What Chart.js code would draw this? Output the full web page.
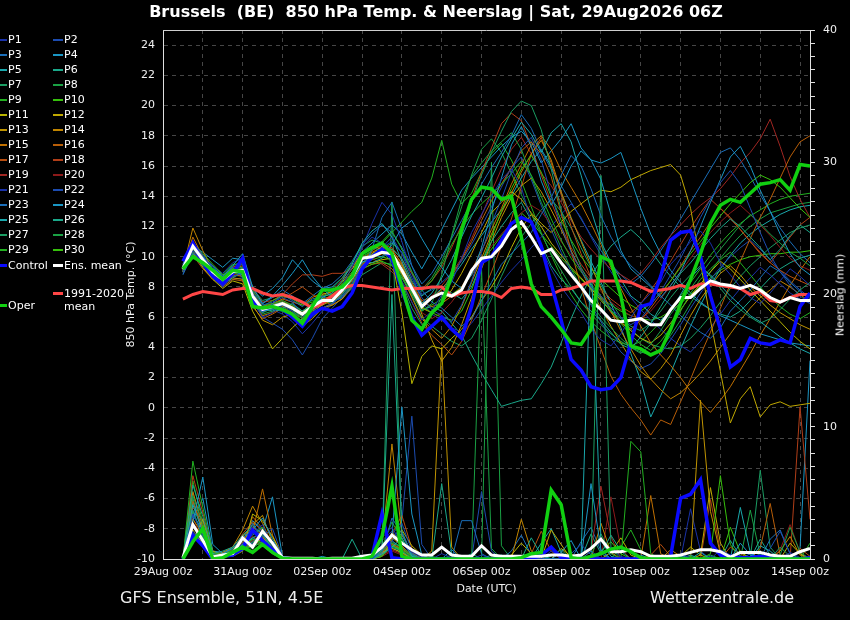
<!DOCTYPE html>
<html>
<head>
<meta charset="utf-8">
<script src="https://cdn.jsdelivr.net/npm/chart.js@4.4.0/dist/chart.umd.min.js"></script>
<style>
  body { margin: 0; background: #000; font-family: "DejaVu Sans", sans-serif; color: #fff; }
  #wrap { position: relative; width: 850px; height: 620px; overflow: hidden; }
  #title { position: absolute; left: 0; top: 2px; width: 872px; text-align: center;
           font-weight: bold; font-size: 16px; line-height: 20px; }
  .foot { position: absolute; top: 588px; font-size: 16px; line-height: 20px; color: #eee; }
  .lg { position: absolute; font-size: 11px; line-height: 13px; white-space: nowrap; color: #fff; }
  .sw { position: absolute; height: 2px; }
  #rtitle { position: absolute; left: 840px; top: 295px; font-size: 11px; white-space: nowrap;
            transform: translate(-50%, -50%) rotate(-90deg); color: #fff; }
</style>
</head>
<body>
<div id="wrap">
  <canvas id="chart" width="850" height="620"></canvas>
  <div id="title">Brussels&nbsp; (BE)&nbsp; 850 hPa Temp. &amp; Neerslag | Sat, 29Aug2026 06Z</div>
  <div id="legend"></div>
  <div id="rtitle">Neerslag (mm)</div>
  <div class="foot" style="left:120px">GFS Ensemble, 51N, 4.5E</div>
  <div class="foot" style="left:650px">Wetterzentrale.de</div>
</div>
<script>
// forecast steps: 6-hourly from 29Aug 12z, x axis in hours since 29Aug 00z
const firstHour = 12;
const stepHours = 6;
const dayLabels = ['29Aug','30Aug','31Aug','01Sep','02Sep','03Sep','04Sep','05Sep','06Sep',
                   '07Sep','08Sep','09Sep','10Sep','11Sep','12Sep','13Sep','14Sep'];

// 850 hPa temperature (°C)
const ensMean = [9.2,10.7,9.8,9.0,8.5,9.0,9.1,7.4,6.5,6.7,6.9,6.6,6.2,6.7,7.1,7.1,
  7.8,8.7,9.9,10.0,10.3,10.2,9.1,7.9,6.7,7.3,7.6,7.4,7.8,9.1,9.9,10.0,
  10.7,11.8,12.3,11.3,10.2,10.5,9.6,8.8,8.0,7.1,6.5,5.8,5.7,5.8,5.9,5.5,
  5.5,6.5,7.3,7.3,7.9,8.4,8.2,8.1,7.9,8.1,7.8,7.3,7.0,7.3,7.1,7.1];
const climMean = [7.2,7.5,7.7,7.6,7.5,7.8,7.9,7.9,7.6,7.4,7.5,7.3,7.0,6.6,6.9,7.4,
  7.9,8.1,8.1,8.0,7.9,7.8,7.9,7.9,7.9,8.0,8.0,7.4,7.6,7.7,7.7,7.6,
  7.3,7.9,8.0,7.9,7.5,7.5,7.8,7.9,8.1,8.4,8.4,8.4,8.4,8.3,8.0,7.7,
  7.8,7.9,8.1,7.9,8.2,8.2,8.1,8.0,7.9,7.5,7.7,7.1,7.0,7.3,7.5,7.5];
const controlTemp = [9.7,10.9,9.6,8.7,8.2,8.9,9.9,7.1,6.5,6.7,6.5,6.0,5.4,6.2,6.6,6.4,
  6.7,7.6,9.2,10.0,10.5,9.9,7.8,6.0,4.8,5.4,6.0,5.2,4.6,6.7,9.6,10.0,
  11.1,12.2,12.6,12.3,10.7,8.2,5.8,3.2,2.5,1.4,1.2,1.3,2.0,4.3,6.7,6.9,
  8.7,11.1,11.6,11.7,10.0,7.4,5.2,2.7,3.2,4.6,4.3,4.2,4.5,4.3,6.7,7.6];
const operTemp = [9.2,10.0,9.6,9.1,8.5,9.1,9.0,6.7,6.6,6.7,6.5,6.2,5.6,6.7,7.8,7.8,
  8.0,8.7,10.2,10.6,10.9,10.2,8.0,5.8,5.2,6.3,6.9,8.7,11.8,13.8,14.6,14.5,
  13.8,14.0,11.3,8.2,6.7,6.0,5.2,4.3,4.2,5.2,10.0,9.7,7.4,4.1,3.9,3.5,
  3.8,5.2,6.9,8.5,10.2,12.2,13.4,13.8,13.6,14.2,14.8,14.9,15.1,14.4,16.1,16.0];

const temp_P1 = [9.0,10.4,9.5,8.6,8.0,8.8,9.6,7.1,6.0,6.3,6.8,6.4,5.6,6.3,7.0,7.3,
  8.1,9.3,10.6,11.3,10.9,9.8,8.4,7.0,5.8,6.4,7.5,8.3,9.9,11.6,12.8,14.0,
  15.1,15.8,14.6,12.3,10.5,9.2,8.0,7.1,6.3,5.2,4.5,4.1,4.9,6.0,6.9,7.6,
  8.3,9.5,10.2,11.0,11.7,10.9,9.6,8.8,8.0,7.3,6.9,7.6,8.4,9.2,8.7,8.1];
const temp_P2 = [9.4,11.0,10.1,9.2,8.3,8.7,8.9,7.6,6.8,7.0,7.3,7.0,6.1,6.0,6.6,6.9,
  7.4,8.2,9.4,9.8,10.6,11.3,10.2,8.6,7.3,6.5,6.1,5.7,6.8,8.4,10.3,12.2,
  13.8,15.6,17.2,17.9,16.4,14.1,12.0,10.3,9.1,8.0,7.4,6.6,6.0,5.5,5.9,6.8,
  7.7,8.8,9.9,11.2,12.6,13.8,14.9,15.7,14.8,13.2,11.6,10.1,9.0,8.1,7.4,6.9];
const temp_P3 = [8.8,10.2,9.9,9.4,8.7,9.3,8.6,6.9,6.3,6.9,7.5,7.1,6.7,7.2,7.4,7.0,
  7.3,8.0,9.1,10.5,12.6,13.6,11.8,9.4,7.8,7.0,6.6,6.0,5.4,5.9,7.1,8.3,
  9.5,10.2,10.9,11.6,12.8,13.9,15.4,16.7,16.0,14.5,12.7,11.3,10.2,9.4,8.8,8.1,
  7.4,6.8,6.1,5.5,5.0,4.6,5.3,6.4,7.1,7.8,8.6,9.4,9.0,8.3,7.7,7.2];
const temp_P4 = [9.5,10.8,10.0,9.3,8.7,9.4,10.2,8.0,6.9,7.4,8.1,8.9,9.8,8.7,7.9,7.3,
  7.7,8.6,9.6,10.1,10.0,10.8,11.9,12.4,11.2,10.1,9.3,8.4,7.9,8.8,10.6,13.0,
  15.2,17.4,18.6,17.3,15.0,13.4,14.6,16.0,17.0,16.4,15.1,12.8,10.4,9.2,8.6,8.0,
  7.3,8.1,9.0,10.4,12.0,13.6,15.1,16.6,17.3,16.0,14.4,13.0,11.5,10.2,9.3,8.8];
const temp_P5 = [9.1,10.6,9.7,8.9,8.4,9.1,8.8,7.2,6.4,6.5,6.4,6.0,5.8,6.6,7.3,7.6,
  8.4,9.5,10.9,11.7,12.2,11.3,9.7,8.1,6.9,7.6,8.6,9.8,11.3,12.7,13.9,15.2,
  16.6,17.8,18.9,18.1,16.9,18.2,18.8,17.6,15.4,13.1,11.0,9.6,8.5,7.4,6.9,6.2,
  5.8,6.4,7.5,8.6,9.3,8.8,8.1,7.4,6.8,6.1,5.7,5.2,4.7,4.3,3.9,3.6];
const temp_P6 = [9.3,10.9,9.6,8.6,8.1,8.6,9.0,7.5,6.6,6.4,6.6,6.9,6.4,6.9,7.2,6.9,
  7.5,8.5,9.7,9.6,9.9,10.5,9.9,8.4,7.4,7.9,8.0,7.6,7.2,8.0,9.6,11.0,
  12.0,12.9,13.6,12.4,10.8,9.4,8.5,7.9,7.0,6.4,5.8,5.0,4.2,3.9,4.7,5.6,
  6.7,7.8,8.9,9.6,10.4,11.2,11.9,12.5,12.0,11.3,10.6,9.8,10.5,11.4,12.1,11.6];
const temp_P7 = [9.2,10.5,9.9,9.1,8.6,9.2,9.3,7.3,6.4,6.8,7.0,6.5,6.0,6.5,7.0,7.2,
  7.9,8.8,10.1,10.6,10.4,9.6,8.3,6.6,5.5,6.1,7.3,9.1,11.4,13.6,15.4,16.9,
  18.3,19.6,20.3,20.0,18.4,15.8,13.1,11.0,9.3,8.1,7.2,6.4,5.9,5.4,5.1,5.6,
  6.4,7.3,8.1,8.8,9.4,8.7,7.9,7.1,6.5,6.0,5.6,5.9,6.5,7.2,7.8,8.3];
const temp_P8 = [9.0,10.3,9.4,8.7,8.3,8.9,8.9,7.1,6.3,6.6,6.9,6.4,5.9,6.4,7.3,7.9,
  8.6,9.6,10.7,11.1,10.9,9.9,8.7,7.5,6.4,6.9,8.8,11.4,13.8,15.3,16.2,17.0,
  17.6,18.2,17.1,15.3,13.6,12.1,10.6,9.2,8.0,6.9,6.0,5.3,4.6,4.0,3.6,4.2,
  5.1,6.2,7.0,7.9,8.8,9.7,10.5,11.3,12.1,12.8,12.2,11.5,10.9,10.3,9.9,9.4];
const temp_P9 = [9.3,10.6,9.8,9.2,8.8,9.5,9.5,7.8,6.8,6.9,7.1,6.8,6.4,6.8,7.4,7.5,
  8.2,9.0,9.9,10.4,11.0,11.7,10.5,9.0,7.7,8.4,9.5,10.8,11.9,12.8,13.5,14.1,
  14.8,15.5,16.3,15.4,14.0,12.5,11.1,9.9,9.0,8.2,7.4,6.5,5.6,4.8,4.2,3.8,
  4.4,5.3,6.4,7.6,8.5,9.2,9.8,10.3,9.6,8.8,8.0,7.3,6.7,6.2,5.9,6.3];
const temp_P10 = [9.4,10.9,10.2,9.5,8.8,9.1,9.0,7.3,6.7,7.1,7.4,7.2,6.8,7.0,7.2,7.0,
  7.4,8.1,9.2,9.5,9.7,9.4,8.6,7.6,6.7,6.3,6.0,5.8,6.4,7.8,9.6,11.3,
  13.0,14.5,15.8,16.7,15.6,14.0,12.4,11.1,10.0,9.2,8.5,7.9,7.3,6.8,6.4,6.9,
  7.6,8.4,9.3,10.2,11.0,11.9,12.7,13.5,14.2,14.9,15.4,15.1,14.6,13.9,13.2,12.6];
const temp_P11 = [9.1,10.4,9.3,8.5,7.9,8.4,8.2,6.4,5.2,3.9,4.6,5.3,5.9,6.4,6.8,7.1,
  7.7,8.5,9.4,9.6,9.8,9.9,6.3,1.6,3.4,4.1,3.9,4.6,5.2,6.0,7.1,8.0,
  9.1,10.6,11.9,12.8,12.0,10.9,10.1,9.3,8.6,7.9,7.1,6.4,5.7,5.1,4.6,4.3,
  4.8,5.6,6.5,7.4,8.2,9.0,9.7,9.2,8.5,7.8,7.1,6.4,5.7,5.0,4.4,3.9];
const temp_P12 = [9.3,10.8,9.7,8.8,8.4,9.0,9.2,7.6,6.6,6.8,7.0,6.7,6.3,6.9,7.5,7.7,
  8.3,9.2,10.3,10.7,10.5,9.8,8.9,7.8,6.6,6.3,6.9,7.8,8.9,10.2,11.6,12.9,
  13.6,14.3,13.8,12.9,12.2,11.6,12.3,13.0,13.5,14.0,14.4,14.3,14.6,15.1,15.4,15.7,
  15.9,16.1,15.4,13.2,9.6,5.8,2.4,-1.0,0.6,1.4,-0.6,0.2,0.4,0.1,0.2,0.3];
const temp_P13 = [9.0,10.2,9.5,8.9,8.2,8.6,8.5,6.8,5.8,5.5,6.0,6.2,5.4,5.9,6.6,6.8,
  7.2,8.0,9.3,10.2,10.7,10.3,9.4,8.0,6.2,4.5,3.1,4.0,5.5,7.3,9.2,11.0,
  12.6,13.9,14.7,15.2,14.3,13.1,11.8,10.4,9.1,7.8,6.6,5.4,4.3,3.2,2.4,1.9,
  2.6,3.5,4.8,6.1,7.2,8.1,8.9,9.4,8.8,8.0,7.4,6.8,6.3,5.9,5.5,5.2];
const temp_P14 = [9.2,11.9,10.4,9.1,8.3,8.8,8.7,7.0,6.1,6.3,6.7,6.5,6.1,6.7,7.2,7.4,
  8.0,8.9,9.9,10.0,10.2,10.0,8.8,7.3,5.9,5.2,4.6,5.4,6.7,8.3,9.9,11.5,
  12.9,14.2,15.6,16.8,17.7,16.4,14.3,12.6,11.0,9.4,7.9,6.4,5.1,3.9,2.8,1.9,
  1.2,0.6,1.0,1.6,2.3,3.1,4.0,4.9,5.8,6.6,7.3,7.8,8.4,8.0,7.5,7.0];
const temp_P15 = [9.4,11.3,10.0,9.0,8.5,9.2,9.4,7.6,6.7,6.9,7.2,7.0,6.8,7.3,7.6,7.5,
  7.9,8.7,9.8,10.3,10.6,10.5,9.5,8.2,7.0,6.7,6.9,7.4,8.0,9.1,10.4,11.8,
  13.2,14.8,16.1,17.4,18.0,17.1,15.7,14.6,13.5,12.2,10.8,9.3,7.9,6.6,5.4,4.3,
  3.5,2.8,2.0,1.1,0.4,-0.3,0.5,1.4,2.5,3.6,4.8,5.9,7.0,8.1,9.1,10.0];
const temp_P16 = [9.1,10.7,9.6,8.7,8.0,8.5,8.4,6.7,5.9,6.2,6.6,6.3,5.9,6.3,6.6,6.9,
  7.6,8.4,9.5,9.9,10.2,10.4,9.6,8.3,7.1,7.3,7.8,8.7,9.8,11.0,12.4,13.7,
  14.8,15.9,17.0,17.6,16.8,15.3,12.9,10.4,8.0,5.8,3.9,2.1,0.9,0.0,-0.8,-1.8,
  -0.8,-1.1,0.4,1.9,3.5,5.0,6.6,8.2,9.7,11.2,12.6,13.8,15.2,16.6,17.6,18.0];
const temp_P17 = [9.0,10.1,9.2,8.5,8.1,8.7,8.9,7.2,6.5,6.8,7.2,7.6,8.0,7.5,7.1,6.8,
  7.2,8.1,9.2,9.5,9.6,9.2,8.3,7.0,5.6,4.8,4.2,3.5,4.4,5.8,7.4,9.0,
  10.7,12.5,14.6,16.8,17.9,16.2,14.1,12.0,10.2,8.6,7.3,6.3,5.6,5.2,5.8,6.6,
  7.5,8.4,9.4,10.4,11.3,12.3,13.2,12.6,11.8,11.0,10.2,9.6,9.1,8.7,8.4,8.1];
const temp_P18 = [9.3,10.9,10.0,9.1,8.6,9.3,9.6,7.9,7.0,7.1,7.5,8.2,8.8,8.8,8.7,8.9,
  8.9,9.2,9.8,10.4,10.8,10.6,9.8,8.9,7.9,8.4,9.3,10.6,12.1,13.8,15.6,17.2,
  18.8,19.5,19.0,17.3,15.4,13.6,12.0,10.6,9.5,8.6,7.9,7.2,6.7,6.3,6.9,7.8,
  8.7,9.7,10.8,11.9,12.9,13.8,13.2,12.5,11.8,11.0,10.3,9.6,10.4,11.3,12.1,12.6];
const temp_P19 = [9.0,10.6,9.8,9.0,8.6,9.2,9.0,7.3,6.6,6.9,7.1,6.8,6.4,6.9,7.4,7.7,
  8.5,9.4,10.1,9.9,9.5,9.0,8.3,7.6,6.8,7.4,8.1,8.9,9.9,11.2,12.7,14.3,
  15.8,17.1,17.9,16.8,15.5,14.7,13.6,12.4,11.3,10.5,9.8,9.2,8.8,8.4,8.9,9.7,
  10.6,11.4,12.1,12.8,13.4,13.9,14.5,15.3,16.2,16.9,17.8,19.1,17.3,15.3,13.8,12.6];
const temp_P20 = [9.2,10.4,9.5,8.8,8.4,8.9,8.7,7.1,6.4,6.7,7.0,6.5,6.0,6.5,7.1,7.5,
  8.2,8.9,9.6,10.0,10.3,9.9,9.0,7.8,6.3,5.9,6.3,7.0,7.9,8.8,9.8,10.7,
  11.5,12.2,12.9,13.4,13.0,12.1,11.0,10.1,9.2,8.4,7.7,7.0,6.5,6.1,5.9,6.4,
  7.2,8.1,9.0,9.9,10.8,11.6,12.3,12.9,13.4,12.8,12.1,11.4,10.6,9.9,9.4,9.1];
const temp_P21 = [9.5,10.9,10.1,9.4,8.9,9.6,9.9,7.8,6.9,6.5,6.2,5.7,4.9,5.6,6.4,6.8,
  7.6,8.9,10.6,12.2,13.6,12.8,11.0,8.9,7.0,6.2,5.8,5.3,5.0,5.6,6.5,7.4,
  8.3,9.1,9.8,10.6,11.3,12.0,12.8,13.5,12.6,11.3,10.1,9.0,8.1,7.3,6.5,5.8,
  5.2,4.6,4.1,3.7,4.4,5.3,6.2,7.1,7.9,8.6,9.3,8.8,8.2,7.6,7.2,6.9];
const temp_P22 = [8.9,10.2,9.3,8.6,8.0,8.5,8.6,7.0,6.0,5.6,5.2,4.5,3.5,4.6,5.9,6.6,
  7.3,8.2,9.3,9.9,10.6,11.0,10.3,8.9,7.5,7.8,8.3,8.9,9.7,10.8,12.0,13.3,
  14.6,15.9,16.6,15.1,13.4,11.8,10.3,9.0,7.9,6.8,5.7,4.6,3.7,3.1,2.6,2.9,
  3.6,4.5,5.5,6.6,7.6,8.5,9.3,10.0,10.6,11.1,10.5,9.8,9.1,8.4,7.8,7.3];
const temp_P23 = [9.3,10.6,9.9,9.2,8.7,9.3,9.5,7.7,6.9,7.3,7.8,7.4,6.9,7.4,7.9,8.2,
  8.8,9.7,10.8,11.5,12.1,11.6,10.6,9.4,8.2,8.9,10.0,11.2,12.4,13.6,14.8,15.9,
  16.9,18.0,19.4,18.5,17.0,15.8,14.7,13.6,12.5,11.4,10.4,9.5,8.8,8.2,8.7,9.5,
  10.4,11.4,12.5,13.6,14.7,15.8,16.9,17.2,16.4,15.3,14.1,13.0,11.9,11.0,10.2,9.6];
const temp_P24 = [9.2,10.7,10.3,9.8,9.3,9.9,9.8,8.0,7.4,7.9,8.6,9.8,9.1,8.4,7.9,8.0,
  8.6,9.4,10.3,10.9,11.5,12.1,11.5,10.3,9.2,10.4,11.8,13.1,14.4,15.2,15.9,16.6,
  17.3,17.9,18.3,17.6,16.2,17.0,17.8,18.8,17.2,16.4,16.2,16.5,16.9,15.1,13.2,11.5,
  10.2,9.1,8.3,7.6,7.0,6.5,6.1,5.8,5.5,5.2,4.9,4.7,4.5,4.3,4.2,4.1];
const temp_P25 = [9.0,10.3,9.6,9.0,8.5,9.1,9.2,7.4,6.5,6.6,6.8,6.4,5.9,6.3,6.9,7.2,
  7.9,8.8,9.8,10.1,10.3,10.0,9.2,8.1,6.9,7.3,7.9,8.6,9.5,10.5,11.4,12.3,
  13.1,14.0,15.2,16.3,17.1,16.0,14.2,12.5,11.1,9.7,8.3,6.9,5.3,3.6,1.8,-0.6,
  0.8,2.3,3.9,5.4,6.8,8.1,9.2,10.1,10.9,11.5,12.0,12.4,12.8,13.1,13.3,13.4];
const temp_P26 = [9.1,10.5,9.8,9.1,8.6,9.0,9.1,7.4,6.6,6.8,7.0,6.8,6.4,6.8,7.2,7.3,
  7.9,8.7,9.8,10.2,10.5,10.1,9.0,7.6,6.5,6.7,6.4,5.6,4.8,3.5,2.3,1.2,
  0.1,0.3,0.5,0.6,1.6,2.7,4.3,5.9,7.4,8.7,9.8,10.7,11.3,11.8,11.2,10.4,
  9.5,8.7,8.0,7.4,6.9,6.5,6.2,6.0,6.4,7.1,7.9,8.6,9.2,9.6,9.9,10.1];
const temp_P27 = [9.4,10.8,9.9,9.1,8.7,9.4,9.7,7.9,7.1,7.3,7.6,7.3,6.9,7.1,7.3,7.1,
  7.3,7.9,8.8,9.2,9.6,9.5,8.6,7.4,6.0,5.4,4.9,4.4,4.1,4.6,5.8,7.2,
  8.7,10.1,11.3,12.2,13.1,13.8,13.0,11.9,10.6,9.3,8.1,7.0,6.0,5.2,4.6,4.2,
  4.0,3.9,4.1,4.6,5.3,6.1,7.0,7.9,8.7,9.4,10.0,10.6,11.1,11.6,11.9,12.1];
const temp_P28 = [9.2,10.6,9.5,8.8,8.2,8.7,8.8,7.0,6.2,6.4,6.7,6.3,5.7,6.1,6.6,6.9,
  7.5,8.3,9.4,9.9,10.5,10.9,10.3,9.0,7.8,8.6,9.7,11.3,13.3,15.4,17.1,17.8,
  16.9,15.5,14.1,12.8,11.5,10.2,9.1,8.0,7.0,6.2,5.5,4.9,4.4,4.0,3.7,3.5,
  3.9,4.8,5.8,6.9,8.0,9.0,9.9,10.7,11.4,12.0,12.5,12.9,13.1,13.3,13.5,13.6];
const temp_P29 = [9.3,10.7,9.8,9.0,8.5,9.1,9.2,7.5,6.6,6.8,7.0,6.7,6.3,6.8,7.2,7.3,
  7.9,8.8,10.0,10.4,10.9,11.6,12.3,13.0,13.6,15.2,17.7,14.8,13.5,14.2,15.6,16.8,
  17.5,16.4,15.0,13.3,11.6,10.1,8.7,7.5,6.5,5.7,5.1,4.6,4.3,4.1,4.4,5.0,
  5.7,6.5,7.4,8.3,9.2,10.1,10.9,11.6,12.2,12.7,13.1,13.5,13.8,14.0,14.1,14.2];
const temp_P30 = [9.1,10.4,9.6,8.9,8.4,8.9,8.8,7.1,6.3,6.6,6.9,6.6,6.2,6.7,7.1,7.2,
  7.7,8.6,9.6,9.8,10.0,9.8,8.9,7.7,6.4,6.8,7.2,7.5,8.0,8.8,9.7,10.5,
  11.4,12.2,12.9,12.3,11.5,10.7,9.9,9.2,8.5,7.9,7.3,6.8,6.4,6.1,5.9,5.8,
  6.0,6.4,6.9,7.5,8.1,8.6,9.1,9.5,9.8,10.0,10.1,10.2,10.2,10.3,10.3,10.4];

// 6-hourly precipitation (mm)
const ensMeanRain = [0.1,2.6,1.4,0.15,0.3,0.4,1.6,0.9,2.1,1.2,0.1,0.05,0.05,0.05,0,0.05,
  0.05,0.05,0.2,0.3,0.9,1.8,1.2,0.7,0.3,0.3,0.9,0.3,0.2,0.2,1.0,0.3,
  0.2,0.2,0.2,0.2,0.2,0.3,0.3,0.2,0.3,0.8,1.5,0.55,0.55,0.7,0.55,0.2,
  0.2,0.2,0.3,0.5,0.7,0.7,0.55,0.15,0.5,0.5,0.5,0.3,0.2,0.2,0.55,0.8];
const controlRain = [0,1.8,1.0,0,0.2,0.3,0.8,2.2,1.4,0.7,0.1,0,0,0,0,0,
  0,0,0,0.2,3.4,0.1,0,0,0,0,0,0,0,0,0,0,
  0.1,0,0,0,0.3,0.9,0.1,0,0,0,0,0,0,0,0,0,
  0,0.2,4.6,4.9,6.0,1.2,0.3,0.2,0.1,0.1,0.2,0.1,0,0,0,0.1];
const operRain = [0,1.3,2.3,0,0.1,0.5,0.9,0.5,1.1,0.5,0.05,0,0,0,0,0,
  0,0,0,0.2,1.7,5.5,0.2,0,0,0,0,0,0,0,0,0,
  0,0,0.1,0.4,0.5,5.2,4.1,0.1,0,0.2,0.4,0.75,0.9,0.55,0.1,0,
  0,0,0,0,0,0,0,0,0,0,0,0,0,0,0,0];

const rain_P1 = [0,2.1,1.3,0.1,0.3,0.4,1.2,1.9,2.6,0.9,0.1,0,0,0,0,0,
  0,0,0,0.3,1.6,2.4,1.1,0.5,0.2,0,0.4,0.1,0,0,0.3,0,
  0,0,0.2,0,0,0.6,0.2,0,0,0,0.3,0.9,0.2,0,0,0,
  0,0,0.4,0.1,0,0,0.7,0.3,0,0,0.2,0,0,0.5,0.1,0];
const rain_P2 = [0,3.4,1.8,0.2,0.1,0.6,1.5,1.1,1.7,2.3,0.2,0,0,0,0,0,
  0,0,0.1,0,0.8,1.3,2.7,0.6,0.1,0,0,0,0.2,0,0,0,
  0,0,0,0,0,0,0,0.4,1.1,0.3,0,0,0,0,0,0,
  0,0,0,0,0,0.2,0,0,0,0,0,0.8,2.1,0.4,0,0];
const rain_P3 = [0,1.6,2.4,0.3,0.2,0.2,0.9,2.7,1.4,0.6,0,0,0,0,0,0,
  0,0,0,0,0.5,3.1,1.9,0.4,0,0,0,0,2.9,2.9,0.4,0,
  0,0,0,0.2,0,0,0,0,0,0.6,0,0,0,0,0.1,0,
  0,0,0.3,0,0,0,0,0,0,0.4,0,0,0,0,0,0.2];
const rain_P4 = [0,2.8,6.2,1.1,0.4,0.8,1.6,2.2,3.1,1.5,0.2,0,0,0,0.2,0,
  0,0,0,0,1.1,1.7,11.5,3.4,0.3,0,0,0.7,0,0,0,0,
  0.3,0,0,0,0,0,0.5,1.4,0,5.7,0.7,0,0,0,0.3,0,
  0,0,0,0,0,0,0,0,1.2,0.3,0,0,0,0,0,0];
const rain_P5 = [0,4.1,2.0,0.2,0.3,0.5,1.1,1.6,2.0,1.2,0.1,0,0,0,0,0,
  0,0,0,0,0.4,0.9,1.6,0.2,0,0,0.1,0,0,0,0,0.3,
  0,0,0,0,0,0,0,0,0.2,23.0,1.4,0.2,0,0,0,0,
  0,0,0.2,0,0.5,0,0,0.3,0,0,1.0,0.6,0,0,0,0];
const rain_P6 = [0,5.6,3.2,0.4,0.6,0.9,1.8,2.5,1.9,0.7,0,0,0,0.1,0,0,
  0,0,0,0,0.7,20.0,2.1,0.3,0,0,0,0,0,0.4,0,0,
  0,0,0,1.6,0.3,0,0,0,0,0,0.4,1.8,0.6,0,0,0,
  0,0,0,0.3,0,0,0,1.4,0.2,0,0,0,0,0,0,0];
const rain_P7 = [0,3.7,1.5,0.1,0.2,0.3,0.7,1.3,1.8,1.0,0.1,0,0,0,0,0,
  0,0,0,0,0.3,0.9,0.6,0.1,0,0.2,0,0,0,0,0,0,
  0,0,0,0,0,0.2,0.7,0,0,0,29.0,0.9,0,0,0,0,
  0,0,0,0,0,0.3,0,0,0,0,0,0,0.9,0.2,0,0];
const rain_P8 = [0,4.8,2.6,0.3,0.4,0.6,1.0,0.8,1.4,1.1,0,0,0,0,0,0,
  0,0,0,0,0.6,1.2,0.9,0.2,0,0,0,0.3,0,0,22.0,0.8,
  0,0,0,0,0,0,0,0,0,0.3,1.9,0.4,0,0,0,0,
  0,0,0,0,0,0,0,0,0,0,0,0,0.3,2.4,0.5,0];
const rain_P9 = [0,7.4,3.9,0.5,0.3,0.7,1.4,1.9,2.4,0.8,0.1,0,0,0,0,0,
  0,0,0,0,0.9,2.8,1.5,0.4,0,0,0,0,0,0,0,0,
  0,0,0,0,0,0,0,0,0,0,0,0,0,8.9,8.1,0.4,
  0,0,0,0.2,0,0,0,0,0,0,0.4,0,0,0,0,0];
const rain_P10 = [0,2.5,1.7,0.2,0.2,0.4,0.9,1.5,1.2,0.5,0,0,0,0,0,0,
  0,0,0,0,0.2,1.0,0.7,0.2,0,0,0,0,0,0,0,0,
  0,0,0.2,0,0,0,0,0,0,0,0.6,1.3,0.4,0,0,0,
  0,0,0,0,0,0.4,6.3,1.1,0,0,0.3,0,0,0,0,0];
const rain_P11 = [0,1.4,3.0,0.6,0.3,0.2,0.6,3.4,2.9,1.7,0.2,0,0,0,0,0,
  0,0,0,0,0.2,1.4,2.2,1.0,0.3,0,0,0,0.2,0,0,0,
  0,0.3,1.2,0.4,0,0,0.8,0.2,0,0,0,0.5,1.6,0.3,0,0,
  0,0,0.2,0.9,0.3,0,0,0,0.6,0,0,0,0,1.2,0.4,0];
const rain_P12 = [0,2.2,1.1,0,0.1,0.3,0.8,1.0,1.6,0.9,0,0,0,0,0,0,
  0,0,0,0,0.5,0.8,0.5,0,0,0,0,0,0,0,0,0,
  0,0,0,0,0,2.2,1.1,0,0,0,0,0,0,0,0,0,
  0,0,0,0,0.3,5.4,1.2,0,0,0,0,0,0,0,0,0];
const rain_P13 = [0,3.0,1.9,0.2,0.4,0.6,1.7,2.6,3.3,1.2,0.1,0,0,0,0,0,
  0,0,0,0,0.6,2.0,1.3,0.4,0,0.6,16.0,0.9,0,0,0,0,
  0,0,0,0.3,0,0,0,0,0,0,0,0,0,0,0,0,
  0,0,0,0,12.0,3.6,0.4,0,0,0,0,0,0,0,0,0];
const rain_P14 = [0,5.1,2.4,0.3,0.5,0.9,2.2,4.0,2.7,1.0,0,0,0,0,0,0,
  0,0,0,0,1.0,8.7,1.8,0.5,0,0,0,0,0,0,0,0,
  0,0,3.0,0.6,0,0,0,0.4,0,0,2.7,0.5,0,0,0,0,
  0,0.7,0.2,0,0,0,0,0,0,0,0,0,0.6,1.7,0.3,0];
const rain_P15 = [0,2.7,1.6,0.1,0.3,0.5,1.3,2.0,5.3,1.8,0.2,0,0,0,0,0,
  0,0,0,0,0.4,1.6,1.0,0.2,0,0,0,0,0,0,0,0,
  0,0,0,0,0,0,0,0,0,0,0,0,0,0,0,4.8,
  0.4,0,0,0,0,0,0,0,0,0,0,0,0,0,0,0];
const rain_P16 = [0,4.4,2.1,0.2,0.2,0.4,1.0,3.2,2.3,0.9,0.1,0,0,0,0,0,
  0,0,0,0,0.3,1.1,0.8,0.2,0,0,0,0,0,0,0,0,
  0,0,0,0,0,0,0,0,0,0,0,0,0,0,0,0,
  0,0,0,0,0,0,0,0,0,0,0.8,4.2,0.3,0,0,0];
const rain_P17 = [0,3.9,2.9,0.4,0.3,0.6,1.9,2.8,2.1,1.3,0,0,0,0,0,0,
  0,0,0,0,0.6,1.9,3.3,0.8,0,0,0,0,0,0,0,0,
  0,0,0,0.4,2.1,0.6,0,0,0,0,0,0,0,0,0,0.3,
  1.1,0.2,0,0,0,0,0,0.9,0.4,0,0,0,0,0,0.8,0.2];
const rain_P18 = [0,6.3,3.5,0.5,0.4,0.7,1.5,2.4,1.8,0.6,0,0,0,0,0,0,
  0,0,0,0,0.5,1.2,0.7,0,0,0,0,0,0,0,0,0,
  0,0,0,0,0,0,0,0,0,0,0,0,0,0,0,0,
  0,0,0,0,0,4.5,0.6,0,0,0,0,0,0,0,11.5,3.0];
const rain_P19 = [0,5.0,2.6,0.3,0.2,0.5,1.2,1.7,1.3,0.4,0,0,0,0,0,0,
  0,0,0,0,0.3,0.7,0.4,0,0,0,0,0,0,0,0,0,
  0,0,0,0,0,0,0,0,0,0.6,5.5,1.7,0,0,0,0,
  0,0,0,0,0,0,0,0,0,0,0,0,0,0,0,0];
const rain_P20 = [0,3.1,1.4,0.1,0.1,0.3,0.8,1.4,1.0,0.5,0,0,0,0,0,0,
  0,0,0,0,0.2,0.6,0.3,0,0,0,0,0,0,0,0,0,
  0,0,0,0,0,0,0,0,0,0,0,4.7,0.8,0,0,0,
  0,0,0,0,0,0,0,0,0,0,0,0,0.7,2.6,0.5,0];
const rain_P21 = [0,1.9,1.0,0,0.2,0.3,1.0,1.4,1.9,0.8,0,0,0,0,0,0,
  0,0,0,0,1.4,2.1,1.2,0.3,0,0,0,0,0,0,0,0,
  0,0,0,0,0,0,0,0,0,0,0,0,0,0,0,0,
  0,0,0,3.8,0.6,0,0,0,0,0,0,0,0,0,0,0];
const rain_P22 = [0,2.4,1.7,0.2,0.3,0.4,0.9,1.2,1.5,0.7,0,0,0,0,0,0,
  0,0,0,0,0.9,1.8,2.9,10.8,1.1,0,0,0,0,0,5.1,0.6,
  0,0,0,0,0,0,0,0,0,0,0,0,0,0,0,0,
  0,0,0,0,0,0,0,0,0,0,0,0,0,0,0,0];
const rain_P23 = [0,3.3,2.2,0.3,0.4,0.7,1.3,1.8,2.3,1.0,0,0,0,0,0,0,
  0,0,0,0,0.6,1.4,0.8,0.2,0,0,0,0,0,0,0,0,
  0,0.6,1.8,0.3,0,0,0,0,1.3,2.4,0.6,0,0,0,0,0,
  0,0,0,0,0,0,0,0,0,0,0,1.5,2.2,0.4,0,0];
const rain_P24 = [0,2.9,4.6,0.6,0.5,0.8,1.4,2.9,2.2,4.7,0.2,0,0,0,0,0,
  0,0,0,0,0.7,1.5,1.9,0.4,0,0,0,0,0,0,0,0,
  0,0,0,0,0,0,0,0,0,0,0,0,0,0,0,0,
  0,0,0,0,0,0,0,0,0,0,0,0,0,0,0.8,15.0];
const rain_P25 = [0,4.3,2.3,0.2,0.3,0.5,1.1,1.6,1.4,0.6,0,0,0,0,0,0,
  0,0,0,0,0.4,1.0,0.6,0,0,0,0,0,0,0,0,0,
  0,0,0,0,1.2,2.3,0.5,0,0,0,0,0,0,0,0,0,
  0,0,0,0,0,0,0,0,3.9,0.5,0,0,0,0,0,0];
const rain_P26 = [0,3.6,1.8,0.1,0.2,0.4,1.0,1.3,1.7,0.8,0,0,0,0,0,0,
  0,1.5,0,0,0.5,1.2,0.6,0,0,0,5.7,0.4,0,0,0,0,
  0,0,0,0,0,0,0,0,0,1.9,0.4,0,0,0,0,0,
  0,0,0,0,0,0,0,0,0,0,1.5,0.3,0,0,0,0];
const rain_P27 = [0,4.6,2.0,0.2,0.3,0.6,1.2,1.5,1.2,0.5,0,0,0,0,0,0,
  0,0,0,0,0.6,27.0,1.4,0.2,0,0,0,0,0,0,0,0,
  0,0,0,0,0,0,0,0,0,0,0,0,0,0,0,0,
  0,0,0,0,0,0,0,0,0,0,6.7,0.9,0,0,0,0];
const rain_P28 = [0,2.0,1.2,0,0.2,0.3,0.8,1.0,1.3,0.6,0,0,0,0,0,0,
  0,0,0,0,0.3,0.9,0.4,0,0,0,0,0,0,0,0,30.0,
  1.0,0,0,0,0,0,0,0,0,0,0,0,0,0,0,0,
  0,0,0,0,0,0,0,0,0,3.7,0.3,0,0,0,0,0];
const rain_P29 = [0,5.9,2.7,0.3,0.4,0.6,1.1,1.4,1.1,0.5,0,0,0,0,0,0,
  0,0,0,0,0.5,1.3,0.9,0.1,0,0,0,0,0,0,0,0,
  0,0,0,0,0,0,0,0,0,0,0,0,0.9,2.2,0.7,0,
  0,0,0,0,0,0,0,0,0,0,0,0,0,0,0,1.2];
const rain_P30 = [0,2.6,1.5,0.1,0.2,0.4,0.9,1.2,1.0,0.4,0,0,0,0,0,0,
  0,0,0,0,0.4,1.1,0.5,0,0,0,0,0,0,0,0,0,
  0,0,0,0,0,0,0,0,0,0,0,0,0,0,0,0,
  0,0,0,0,0,0,0,2.4,0.5,0,0,0,0,0,0,0];

const memberTemp = [temp_P1,temp_P2,temp_P3,temp_P4,temp_P5,temp_P6,temp_P7,temp_P8,temp_P9,temp_P10,
  temp_P11,temp_P12,temp_P13,temp_P14,temp_P15,temp_P16,temp_P17,temp_P18,temp_P19,temp_P20,
  temp_P21,temp_P22,temp_P23,temp_P24,temp_P25,temp_P26,temp_P27,temp_P28,temp_P29,temp_P30];
const memberRain = [rain_P1,rain_P2,rain_P3,rain_P4,rain_P5,rain_P6,rain_P7,rain_P8,rain_P9,rain_P10,
  rain_P11,rain_P12,rain_P13,rain_P14,rain_P15,rain_P16,rain_P17,rain_P18,rain_P19,rain_P20,
  rain_P21,rain_P22,rain_P23,rain_P24,rain_P25,rain_P26,rain_P27,rain_P28,rain_P29,rain_P30];

// P1..P20 colours, P21..P30 reuse P1..P10
const memberColors = ['#1a32a8','#1c4cb0','#1a6eb8','#1a96c4','#1aa8ac','#1aa88a','#1a9c62','#1aa044',
  '#22b020','#36c00c','#b8b400','#c0a800','#c09400','#c08400','#c07000','#b85e08','#b84e10','#b03e18',
  '#a02622','#8c1a1a'];
const controlColor = '#0a0aff';
const operColor = '#11d011';
const meanColor = '#ffffff';
const climColor = '#ff4646';

const hours = ensMean.map((_, i) => firstHour + i * stepHours);

const datasets = [];
memberTemp.forEach((d, i) => {
    const c = memberColors[i % memberColors.length];
    datasets.push({ label: 'P' + (i + 1), data: d, borderColor: c, borderWidth: 1, yAxisID: 'y', order: 10 });
    datasets.push({ label: 'P' + (i + 1) + ' rain', data: memberRain[i], borderColor: c, borderWidth: 1, yAxisID: 'y1', order: 10 });
});
datasets.push({ label: '1991-2020 mean', data: climMean, borderColor: climColor, borderWidth: 3, yAxisID: 'y', order: 4 });
datasets.push({ label: 'Control', data: controlTemp, borderColor: controlColor, borderWidth: 3.5, yAxisID: 'y', order: 3 });
datasets.push({ label: 'Control rain', data: controlRain, borderColor: controlColor, borderWidth: 3.5, yAxisID: 'y1', order: 3 });
datasets.push({ label: 'Ens. mean', data: ensMean, borderColor: meanColor, borderWidth: 3, yAxisID: 'y', order: 2 });
datasets.push({ label: 'Ens. mean rain', data: ensMeanRain, borderColor: meanColor, borderWidth: 3, yAxisID: 'y1', order: 2 });
datasets.push({ label: 'Oper', data: operTemp, borderColor: operColor, borderWidth: 3.5, yAxisID: 'y', order: 1 });
datasets.push({ label: 'Oper rain', data: operRain, borderColor: operColor, borderWidth: 3.5, yAxisID: 'y1', order: 1 });

// thin frame line along the top of the plot
const topFrame = {
    id: 'topFrame',
    afterDraw(chart) {
        const a = chart.chartArea, c = chart.ctx;
        c.save();
        c.strokeStyle = '#cfcfcf';
        c.lineWidth = 1;
        c.beginPath();
        c.moveTo(a.left, a.top + 0.5);
        c.lineTo(a.right, a.top + 0.5);
        c.stroke();
        c.restore();
    }
};

Chart.defaults.font.family = '"DejaVu Sans", sans-serif';
Chart.defaults.font.size = 11;
Chart.defaults.color = '#f0f0f0';

const gridGrey = 'rgba(128,128,128,0.55)';
const ctx = document.getElementById('chart').getContext('2d');
const chart = new Chart(ctx, {
    type: 'line',
    data: { labels: hours, datasets: datasets },
    options: {
        responsive: false,
        animation: false,
        layout: { padding: { left: 118, right: 0, top: 30, bottom: 20 } },
        elements: { point: { radius: 0 }, line: { tension: 0, fill: false } },
        plugins: { legend: { display: false }, tooltip: { enabled: false } },
        scales: {
            x: {
                type: 'linear', min: 0, max: 390,
                afterFit: s => { s.height = 41; },
                ticks: {
                    stepSize: 24, includeBounds: false, autoSkip: false, maxRotation: 0, padding: 7,
                    callback: v => (v % 48 === 0 ? dayLabels[v / 24] + ' 00z' : '')
                },
                grid: { color: gridGrey, drawTicks: false },
                border: { color: '#e0e0e0', dash: [4, 4] },
                title: { display: true, text: 'Date (UTC)', padding: { top: 4, bottom: 4 } }
            },
            y: {
                position: 'left', min: -10, max: 25,
                afterFit: s => { s.width = 45; },
                ticks: { stepSize: 2, includeBounds: false, autoSkip: false, padding: 8 },
                grid: { color: gridGrey, drawTicks: false },
                border: { color: '#e0e0e0', dash: [4, 4] },
                title: { display: true, text: '850 hPa Temp. (°C)', padding: { top: 7, bottom: 4 } }
            },
            y1: {
                position: 'right', min: 0, max: 40,
                afterFit: s => { s.width = 40; },
                ticks: {
                    stepSize: 1, includeBounds: false, autoSkip: false, padding: 8,
                    callback: v => (v % 10 === 0 ? String(v) : '')
                },
                grid: { drawOnChartArea: false, drawTicks: true, tickLength: 5, color: '#e0e0e0' },
                border: { color: '#e0e0e0' }
            }
        }
    },
    plugins: [topFrame]
});

// legend in two columns on the left
const legend = document.getElementById('legend');
function addLegend(text, color, col, y, thick) {
    const sx = col === 0 ? 0 : 53;
    const sw = col === 0 ? 7 : 10;
    const s = document.createElement('div');
    s.className = 'sw';
    s.style.left = sx + 'px';
    s.style.top = (y - (thick ? 1.5 : 1)) + 'px';
    s.style.width = sw + 'px';
    s.style.height = (thick ? 3 : 2) + 'px';
    s.style.background = color;
    legend.appendChild(s);
    const t = document.createElement('div');
    t.className = 'lg';
    t.style.left = (sx + sw + 1) + 'px';
    t.style.top = (y - 7) + 'px';
    t.innerHTML = text;
    legend.appendChild(t);
}
memberTemp.forEach((d, i) => {
    addLegend('P' + (i + 1), memberColors[i % memberColors.length], i % 2, 39.5 + Math.floor(i / 2) * 15, false);
});
addLegend('Control', controlColor, 0, 265.5, true);
addLegend('Ens. mean', meanColor, 1, 265.5, true);
addLegend('1991-2020<br>mean', climColor, 1, 293.5, true);
addLegend('Oper', operColor, 0, 305.5, true);
</script>
</body>
</html>
